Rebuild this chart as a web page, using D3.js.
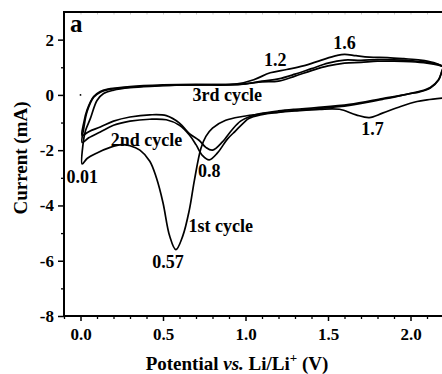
<!DOCTYPE html>
<html><head><meta charset="utf-8">
<script src="https://cdn.jsdelivr.net/npm/d3@7"></script>
<style>
html,body{margin:0;padding:0;background:#fff;}
svg{display:block;}
svg text{font-family:"Liberation Serif","Times New Roman",serif !important;font-weight:700 !important;fill:#000;}
</style></head>
<body><svg id="chart" width="442" height="374"></svg>
<script>
// ---- data ----
const xMajorTicks = [0.0, 0.5, 1.0, 1.5, 2.0];
const xTickLabels = ["0.0", "0.5", "1.0", "1.5", "2.0"];
const yMajorTicks = [-8, -6, -4, -2, 0, 2];
const yTickLabels = ["-8", "-6", "-4", "-2", "0", "2"];

// cycle 1 (potential V, current mA) in scan order
const cycle1 = [
 [2.22,-0.10],[2.10,-0.18],[2.04,-0.24],[1.94,-0.42],[1.83,-0.66],[1.75,-0.82],[1.67,-0.72],[1.57,-0.52],
 [1.45,-0.52],[1.30,-0.58],[1.20,-0.63],[1.09,-0.69],[0.98,-0.78],[0.88,-0.92],[0.80,-1.20],[0.76,-1.50],
 [0.73,-1.93],[0.69,-3.10],[0.66,-4.15],[0.62,-5.10],[0.578,-5.60],[0.54,-5.10],[0.50,-3.90],[0.46,-3.00],
 [0.42,-2.40],[0.36,-2.00],[0.30,-1.84],[0.25,-1.80],[0.18,-1.90],[0.10,-2.10],[0.04,-2.30],[0.01,-2.50],
 [0.015,-1.80],[0.03,-1.30],[0.06,-0.85],[0.10,-0.20],[0.14,0.05],[0.20,0.17],[0.30,0.26],[0.45,0.32],
 [0.60,0.36],[0.80,0.37],[0.95,0.40],[1.05,0.55],[1.15,0.80],[1.25,0.92],[1.35,1.05],[1.46,1.26],
 [1.55,1.42],[1.60,1.47],[1.67,1.42],[1.75,1.37],[1.86,1.35],[1.96,1.31],[2.06,1.26],[2.14,1.17],[2.20,1.02]
];
const cycle2 = [
 [2.20,1.02],[2.19,0.85],[2.17,0.54],[2.12,0.25],[2.05,0.10],[2.00,0.05],[1.90,-0.08],[1.83,-0.16],
 [1.63,-0.38],[1.43,-0.50],[1.30,-0.56],[1.20,-0.62],[1.09,-0.72],[1.02,-0.85],[0.99,-1.00],[0.94,-1.30],
 [0.89,-1.60],[0.83,-2.10],[0.78,-2.35],[0.74,-2.20],[0.70,-1.80],[0.66,-1.45],[0.60,-1.10],[0.52,-0.90],
 [0.42,-0.88],[0.30,-0.95],[0.20,-1.10],[0.12,-1.34],[0.05,-1.55],[0.01,-1.72],
 [0.02,-1.20],[0.04,-0.60],[0.08,-0.08],[0.12,0.10],[0.16,0.18],[0.30,0.28],[0.50,0.34],[0.70,0.36],
 [0.90,0.36],[1.00,0.40],[1.10,0.50],[1.20,0.58],[1.30,0.75],[1.40,0.95],[1.50,1.15],[1.60,1.26],
 [1.70,1.25],[1.80,1.28],[1.90,1.27],[2.00,1.24],[2.10,1.18],[2.17,1.10],[2.20,1.02]
];
const cycle3 = [
 [2.20,1.02],[2.19,0.85],[2.17,0.55],[2.12,0.27],[2.05,0.12],[1.90,-0.06],[1.83,-0.13],[1.63,-0.34],
 [1.43,-0.46],[1.30,-0.52],[1.20,-0.58],[1.09,-0.68],[1.02,-0.80],[0.97,-0.95],[0.92,-1.25],[0.86,-1.70],
 [0.80,-2.00],[0.76,-1.90],[0.72,-1.65],[0.66,-1.40],[0.60,-1.02],[0.52,-0.75],[0.42,-0.72],[0.30,-0.80],
 [0.20,-0.95],[0.12,-1.16],[0.05,-1.33],[0.01,-1.47],
 [0.02,-1.00],[0.04,-0.54],[0.08,-0.06],[0.12,0.12],[0.16,0.20],[0.30,0.30],[0.50,0.36],[0.70,0.38],
 [0.90,0.37],[1.00,0.40],[1.10,0.47],[1.20,0.50],[1.30,0.68],[1.40,0.88],[1.50,1.05],[1.60,1.15],
 [1.70,1.18],[1.80,1.22],[1.90,1.22],[2.00,1.20],[2.10,1.15],[2.17,1.08],[2.20,1.02]
];
const strayPoint = [[0.0, 0.0]];

// annotations: text, potential, current (anchor at text centre baseline)
const annoText = ["1.2", "1.6", "3rd cycle", "2nd cycle", "0.01", "0.8", "1st cycle", "0.57", "1.7"];
const annoX    = [1.18, 1.60, 0.89, 0.40, 0.01, 0.78, 0.85, 0.53, 1.77];
const annoY    = [1.05, 1.67, -0.22, -1.85, -3.18, -2.96, -4.95, -6.28, -1.45];

// ---- chart ----
const svg = d3.select("#chart");
const x = d3.scaleLinear().domain([-0.1, 2.2]).range([64, 443.5]);
const y = d3.scaleLinear().domain([-8, 3]).range([316, 12]);

const xMinor = d3.range(-1, 23).map(i => i / 10).filter(v => !xMajorTicks.some(m => Math.abs(m - v) < 1e-6));
const yMinor = [-7, -5, -3, -1, 1];

function styleText(sel, size) {
  sel.attr("font-size", size).style("font-family", '"Liberation Serif","Times New Roman",serif')
    .style("font-weight", "700").attr("fill", "#000");
}

// top faint ticks
svg.append("g").attr("transform", "translate(0,12)")
  .call(d3.axisBottom(x).tickValues(d3.range(0, 23).map(i => i / 10)).tickSize(2.5).tickFormat(""))
  .call(g => g.select(".domain").remove())
  .call(g => g.selectAll("line").attr("stroke", "#bbb").attr("stroke-width", 0.8));

// top border
svg.append("line").attr("x1", 63).attr("x2", 442).attr("y1", 12).attr("y2", 12)
  .attr("stroke", "#000").attr("stroke-width", 2);

// curves
const line = d3.line().x(d => x(d[0])).y(d => y(d[1])).curve(d3.curveCatmullRom.alpha(0.5));
[cycle1, cycle2, cycle3].forEach(c => {
  svg.append("path").attr("d", line(c)).attr("fill", "none").attr("stroke", "#000")
    .attr("stroke-width", 1.7).attr("stroke-linejoin", "round");
});
svg.selectAll("circle.stray").data(strayPoint).join("circle").attr("class", "stray")
  .attr("cx", d => x(d[0])).attr("cy", d => y(d[1])).attr("r", 0.9).attr("fill", "#000");

// x axis
const xAxis = svg.append("g").attr("transform", "translate(0,316)");
xAxis.call(d3.axisBottom(x).tickValues(xMajorTicks).tickSize(5).tickPadding(7)
  .tickFormat((d, i) => xTickLabels[i]))
  .call(g => g.select(".domain").remove());
styleText(xAxis.selectAll("text"), 17);
xAxis.selectAll("line").attr("stroke-width", 1.5);
svg.append("g").attr("transform", "translate(0,316)")
  .call(d3.axisBottom(x).tickValues(xMinor).tickSize(3).tickFormat(""))
  .call(g => g.select(".domain").remove())
  .call(g => g.selectAll("line").attr("stroke-width", 1.3));
svg.append("line").attr("x1", 63).attr("x2", 442).attr("y1", 316).attr("y2", 316)
  .attr("stroke", "#000").attr("stroke-width", 2);

// y axis
const yAxis = svg.append("g").attr("transform", "translate(64,0)");
yAxis.call(d3.axisLeft(y).tickValues(yMajorTicks).tickSize(6).tickPadding(4)
  .tickFormat((d, i) => yTickLabels[i]))
  .call(g => g.select(".domain").remove());
styleText(yAxis.selectAll("text"), 17);
yAxis.selectAll("line").attr("stroke-width", 1.5);
svg.append("g").attr("transform", "translate(64,0)")
  .call(d3.axisLeft(y).tickValues(yMinor).tickSize(3).tickFormat(""))
  .call(g => g.select(".domain").remove())
  .call(g => g.selectAll("line").attr("stroke-width", 1.3));
svg.append("line").attr("x1", 64).attr("x2", 64).attr("y1", 11).attr("y2", 317)
  .attr("stroke", "#000").attr("stroke-width", 2);

// axis titles
const xt = svg.append("text").attr("x", 237).attr("y", 370).attr("text-anchor", "middle");
styleText(xt, 19);
xt.append("tspan").text("Potential ");
xt.append("tspan").style("font-style", "italic").text("vs.");
xt.append("tspan").text(" Li/Li");
xt.append("tspan").attr("font-size", 13).attr("dy", -8).text("+");
xt.append("tspan").attr("dy", 8).text(" (V)");

const yt = svg.append("text").attr("transform", "translate(27,158) rotate(-90)").attr("text-anchor", "middle")
  .text("Current (mA)");
styleText(yt, 19);

// panel label
styleText(svg.append("text").attr("x", 70).attr("y", 32).text("a"), 25);

// annotations
annoText.forEach((t, i) => {
  styleText(svg.append("text").attr("x", x(annoX[i])).attr("y", y(annoY[i])).attr("text-anchor", "middle").text(t), 18);
});
</script></body></html>
